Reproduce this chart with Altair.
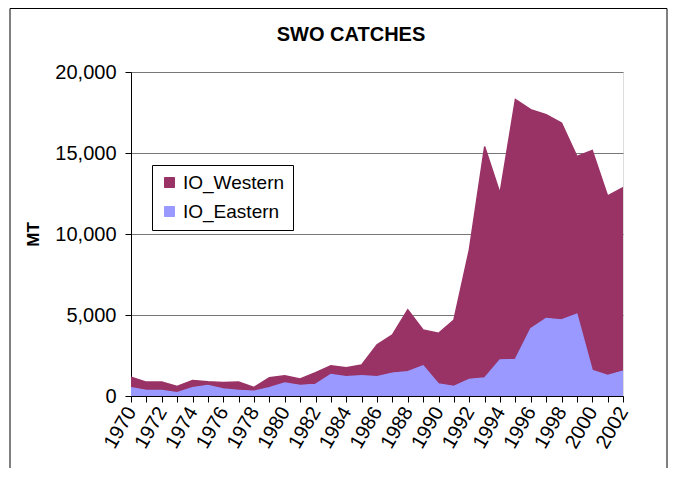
import altair as alt
import pandas as pd

years = list(range(1970, 2003))
io_eastern = [515, 350, 350, 205, 515, 657, 430, 350, 290, 515, 800, 657, 720,
              1330, 1190, 1250, 1190, 1415, 1500, 1865, 740, 596, 1030, 1110,
              2220, 2260, 4160, 4780, 4700, 5050, 1580, 1270, 1540]
io_western = [650, 510, 510, 390, 450, 220, 410, 510, 245, 615, 450, 400, 715,
              535, 550, 675, 1965, 2355, 3825, 2210, 3130, 4100, 7980, 14290,
              10300, 16040, 13520, 12590, 12150, 9740, 13580, 11080, 11330]
series = ["IO_Western", "IO_Eastern"]
colors = ["#993366", "#9999FF"]
y_ticks = [0, 5000, 10000, 15000, 20000]
x_labels = list(range(1970, 2003, 2))

rows = []
for i, yr in enumerate(years):
    rows.append({"year": yr, "series": "IO_Eastern", "value": io_eastern[i], "ord": 0})
    rows.append({"year": yr, "series": "IO_Western", "value": io_western[i], "ord": 1})
df = pd.DataFrame(rows)

FONT = "Liberation Sans"
label_expr = "indexof([" + ",".join(str(v) for v in x_labels) + "], datum.value) >= 0 ? datum.value : ''"

area = alt.Chart(df).mark_area(
    line={"color": "black", "strokeWidth": 1.4},
    opacity=1,
    interpolate="linear",
).encode(
    x=alt.X("year:Q",
            scale=alt.Scale(domain=[1970, 2002], nice=False, zero=False),
            axis=alt.Axis(values=years, labelExpr=label_expr, labelAngle=-60,
                          labelAlign="right", labelBaseline="middle",
                          labelFontSize=20, labelPadding=6, tickSize=6,
                          grid=False, title=None, domainColor="black",
                          tickColor="black", labelColor="black",
                          labelFont=FONT, labelOverlap=False)),
    y=alt.Y("value:Q", stack="zero",
            scale=alt.Scale(domain=[0, 20000], nice=False),
            axis=alt.Axis(values=y_ticks, format=",.0f", labelFontSize=20,
                          labelPadding=9, tickSize=6, grid=True,
                          gridColor="#777777", gridWidth=1,
                          title="MT", titleFontSize=17, titleFontWeight="bold",
                          titleFont=FONT, titlePadding=12, titleColor="black",
                          domainColor="black", tickColor="black",
                          labelColor="black", labelFont=FONT)),
    color=alt.Color("series:N",
                    scale=alt.Scale(domain=series, range=colors),
                    legend=alt.Legend(title=None, orient="none", legendX=21,
                                      legendY=93, symbolType="square",
                                      symbolSize=100, symbolStrokeColor="black",
                                      symbolStrokeWidth=1, labelFontSize=19,
                                      labelOffset=4,
                                      labelFont=FONT, labelColor="black",
                                      strokeColor="black", fillColor="white",
                                      padding=8, rowPadding=9,
                                      symbolOffset=0)),
    order=alt.Order("ord:Q"),
)

frame = alt.Chart(pd.DataFrame({"a": [0]})).mark_rect(
    fill=None, stroke="black", strokeWidth=1
).encode(x=alt.value(-121), x2=alt.value(536), y=alt.value(-63.5), y2=alt.value(420))

chart = alt.layer(frame, area).properties(
    width=492, height=324,
    title=alt.TitleParams("SWO CATCHES", font=FONT, fontSize=20,
                          fontWeight="bold", color="black", offset=-37, dx=-26),
    autosize=alt.AutoSizeParams(type="none"),
    padding={"left": 123, "top": 64, "right": 46, "bottom": 72},
).configure_view(stroke="#777777", strokeWidth=1).configure(background="white")

chart.save("out.html", embed_options={"renderer": "svg", "actions": False})
